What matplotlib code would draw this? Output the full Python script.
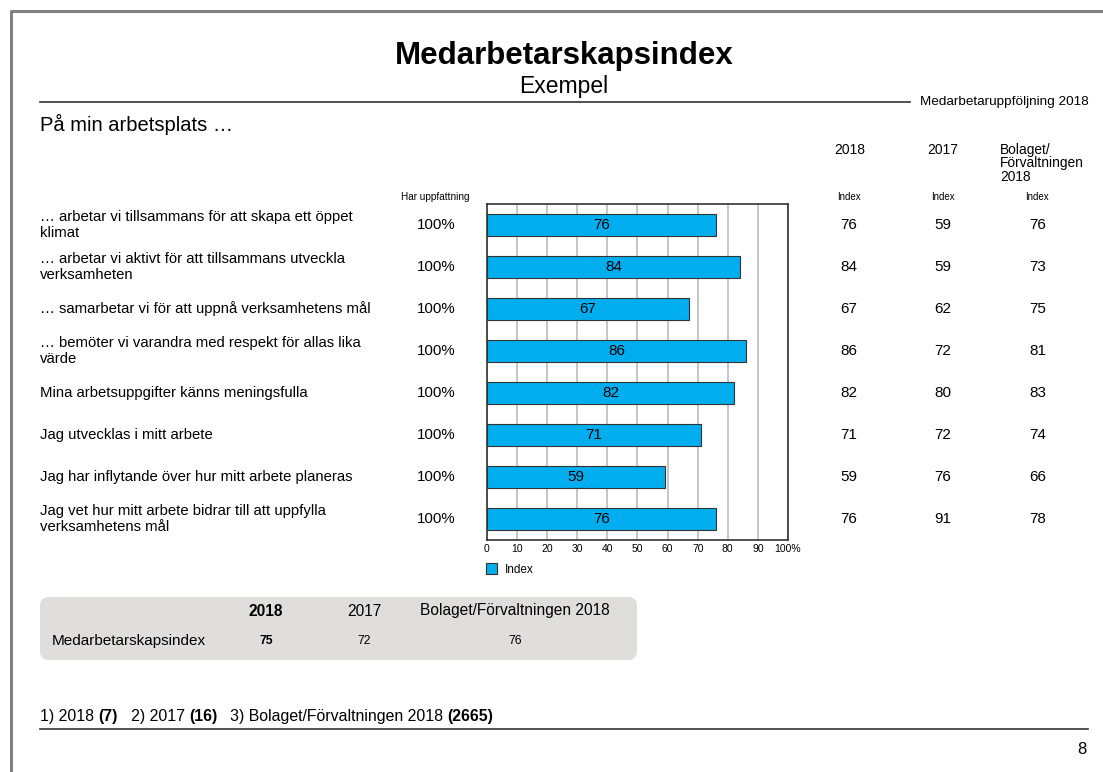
import matplotlib
matplotlib.use("Agg")
import matplotlib.pyplot as plt
from matplotlib import transforms
from matplotlib.patches import FancyBboxPatch
from matplotlib.lines import Line2D

plt.rcParams['font.family'] = ['Liberation Sans', 'DejaVu Sans']

# ---------------- data ----------------
questions = [
    "… arbetar vi tillsammans för att skapa ett öppet\nklimat",
    "… arbetar vi aktivt för att tillsammans utveckla\nverksamheten",
    "… samarbetar vi för att uppnå verksamhetens mål",
    "… bemöter vi varandra med respekt för allas lika\nvärde",
    "Mina arbetsuppgifter känns meningsfulla",
    "Jag utvecklas i mitt arbete",
    "Jag har inflytande över hur mitt arbete planeras",
    "Jag vet hur mitt arbete bidrar till att uppfylla\nverksamhetens mål",
]
har_uppfattning = ["100%"] * 8
index_2018 = [76, 84, 67, 86, 82, 71, 59, 76]
index_2017 = [59, 59, 62, 72, 80, 72, 76, 91]
index_bolaget = [76, 73, 75, 81, 83, 74, 66, 78]
xticks = [0, 10, 20, 30, 40, 50, 60, 70, 80, 90, 100]
xticklabels = ["0", "10", "20", "30", "40", "50", "60", "70", "80", "90", "100%"]

summary_cols = ["2018", "2017", "Bolaget/Förvaltningen 2018"]
summary_vals = [75, 72, 76]
footnote_counts = [7, 16, 2665]

# ---------------- figure ----------------
W, H = 1103, 772
fig = plt.figure(figsize=(W / 100, H / 100), dpi=100)

def fx(x):
    return x / W

def fy(y):
    return 1 - y / H

def ftext(x, y, s, **kw):
    return fig.text(fx(x), fy(y), s, **kw)

# page border (top + left)
fig.add_artist(Line2D([fx(11), fx(11), fx(1103)], [fy(772), fy(11), fy(11)],
                      color="#808080", lw=2.2, transform=fig.transFigure))

# title
ftext(564, 56, "Medarbetarskapsindex", ha="center", va="center",
      fontsize=22.5, fontweight="bold")
ftext(564, 86, "Exempel", ha="center", va="center", fontsize=16.5)
fig.add_artist(Line2D([fx(40), fx(910)], [fy(102), fy(102)], color="#333333",
                      lw=1.2, transform=fig.transFigure))
ftext(1089, 102, "Medarbetaruppföljning 2018", ha="right", va="center", fontsize=9.7)
ftext(40, 124, "På min arbetsplats …", ha="left", va="center", fontsize=14.5)

# column headers
ftext(850, 150, "2018", ha="center", va="center", fontsize=10)
ftext(943, 150, "2017", ha="center", va="center", fontsize=10)
ftext(1000, 143, "Bolaget/\nFörvaltningen\n2018", ha="left", va="top",
      fontsize=9.9, linespacing=0.95)
for xc in (849, 943, 1037):
    ftext(xc, 197, "Index", ha="center", va="center", fontsize=7)
ftext(435, 197, "Har uppfattning", ha="center", va="center", fontsize=7.2)

# ---------------- bar chart ----------------
ax_l, ax_r, ax_t, ax_b = 487, 788, 204, 540
ax = fig.add_axes([fx(ax_l), fy(ax_b), (ax_r - ax_l) / W, (ax_b - ax_t) / H])
ypos = list(range(len(index_2018)))
bars = ax.barh(ypos, index_2018, height=0.52, color="#00AEEF",
               edgecolor="#333333", linewidth=0.8, label="Index", zorder=3)
for y, v in zip(ypos, index_2018):
    ax.text(v / 2, y, str(v), ha="center", va="center", fontsize=11, zorder=4)
ax.set_xlim(0, 100)
ax.set_ylim(len(index_2018) - 0.5, -0.5)
ax.set_xticks(xticks)
ax.set_xticklabels(xticklabels, fontsize=7.5)
ax.set_yticks([])
ax.tick_params(axis="x", length=0, pad=3)
ax.grid(axis="x", color="#BBBBBB", lw=1.2, zorder=0)
for s in ax.spines.values():
    s.set_color("#333333")
    s.set_linewidth(1.2)
ax.legend(handles=[bars], labels=["Index"], loc="upper left",
          bbox_to_anchor=(-0.003, -0.068), frameon=False, fontsize=8.5,
          handlelength=0.95, handleheight=1.1, handletextpad=0.6,
          borderpad=0, borderaxespad=0)

# rows: labels on left, percentages, values on right
trans = transforms.blended_transform_factory(fig.transFigure, ax.transData)
for y, q, hu, a, b, c in zip(ypos, questions, har_uppfattning,
                             index_2018, index_2017, index_bolaget):
    fig.text(fx(40), y, q, transform=trans, ha="left", va="center",
             fontsize=10.7, linespacing=1.12)
    fig.text(fx(436), y, hu, transform=trans, ha="center", va="center", fontsize=10.8)
    fig.text(fx(849), y, str(a), transform=trans, ha="center", va="center", fontsize=11)
    fig.text(fx(943), y, str(b), transform=trans, ha="center", va="center", fontsize=11)
    fig.text(fx(1038), y, str(c), transform=trans, ha="center", va="center", fontsize=11)

# ---------------- summary box ----------------
box = FancyBboxPatch((fx(40), fy(660)), fx(637) - fx(40), fy(597) - fy(660),
                     boxstyle="round,pad=0,rounding_size=0.008",
                     mutation_aspect=W / H,
                     transform=fig.transFigure, facecolor="#E0DEDA",
                     edgecolor="none", zorder=0)
fig.add_artist(box)
col_x = [266, 364, 515]
for i, (cx, name, val) in enumerate(zip(col_x, summary_cols, summary_vals)):
    w = "bold" if i == 0 else "normal"
    ftext(cx, 611, name, ha="center", va="center", fontsize=11.2, fontweight=w)
    ftext(cx, 641, str(val), ha="center", va="center", fontsize=8.8, fontweight=w)
ftext(52, 641, "Medarbetarskapsindex", ha="left", va="center", fontsize=11)

# ---------------- footnote ----------------
fn_parts = [("1) 2018 ", "normal"), (f"({footnote_counts[0]})", "bold"),
            ("   2) 2017 ", "normal"), (f"({footnote_counts[1]})", "bold"),
            ("   3) Bolaget/Förvaltningen 2018 ", "normal"),
            (f"({footnote_counts[2]})", "bold")]
renderer = fig.canvas.get_renderer()
xcur = 40
for s, w in fn_parts:
    t = ftext(xcur, 716, s, ha="left", va="center", fontsize=11.4, fontweight=w)
    bb = t.get_window_extent(renderer=renderer)
    xcur += bb.width
fig.add_artist(Line2D([fx(40), fx(1088)], [fy(729), fy(729)], color="#333333",
                      lw=1.2, transform=fig.transFigure))
ftext(1086, 749, "8", ha="right", va="center", fontsize=12)

fig.savefig("out.png", dpi=100)
